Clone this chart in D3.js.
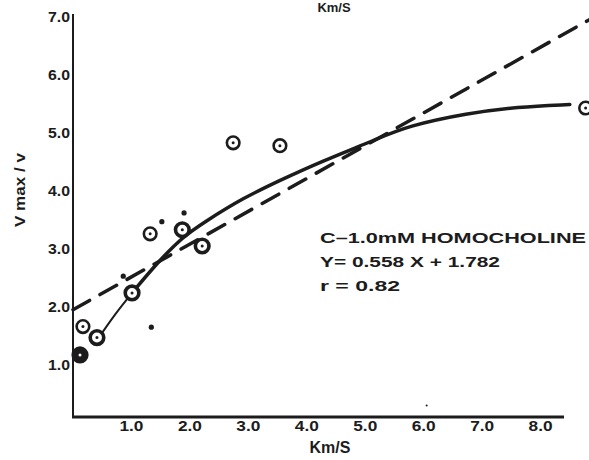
<!DOCTYPE html>
<html>
<head>
<meta charset="utf-8">
<script src="https://cdn.jsdelivr.net/npm/d3@7"></script>
<style>
body { margin: 0; background: #fff; }
text { font-family: "Liberation Sans", Arial, sans-serif; font-weight: bold; fill: #1c1c1c; }
</style>
</head>
<body>
<div id="chart"></div>
<script>
var W = 589, H = 460;
var ink = "#1c1c1c";

// tick labels
var xTicks = [1, 2, 3, 4, 5, 6, 7, 8];
var yTicks = [1, 2, 3, 4, 5, 6, 7];

// circled points (Km/S, Vmax/v); heavy = blotted ink
var ptX = [0.12, 0.17, 0.41, 1.01, 1.32, 1.87, 2.21, 2.74, 3.54, 8.77];
var ptY = [1.17, 1.66, 1.47, 2.24, 3.26, 3.33, 3.05, 4.83, 4.78, 5.43];
var ptHeavy = [2, 0, 1, 1, 0, 1, 1, 0, 0, 0];

// small dots
var dotX = [0.86, 1.34, 1.52, 1.90, 6.05];
var dotY = [2.53, 1.65, 3.47, 3.62, 0.3];

// hand-drawn curve
var curveX = [0.43, 0.7, 1.01, 1.44, 1.88, 2.23, 2.91, 3.6, 4.23, 5.17, 5.72, 6.75, 7.6, 8.5];
var curveY = [1.45, 1.85, 2.24, 2.76, 3.21, 3.45, 3.88, 4.21, 4.50, 4.88, 5.12, 5.34, 5.45, 5.49];

// dashed regression line as drawn
var lineX = [0, 8.9];
var lineY = [1.95, 6.99];

var notes = ["C\u20131.0mM HOMOCHOLINE", "Y= 0.558 X + 1.782", "r = 0.82"];

var x = d3.scaleLinear().domain([0, 8.4]).range([73, 564]);
var y = d3.scaleLinear().domain([0.1, 7.0]).range([417, 17]);

var svg = d3.select("#chart").append("svg")
	.attr("width", W)
	.attr("height", H);

// axes
svg.append("line")
	.attr("x1", x(0)).attr("y1", y(7.05))
	.attr("x2", x(0)).attr("y2", y(0.1))
	.attr("stroke", ink).attr("stroke-width", 2);
svg.append("line")
	.attr("x1", x(0) - 1).attr("y1", y(0.1))
	.attr("x2", x(8.4)).attr("y2", y(0.1))
	.attr("stroke", ink).attr("stroke-width", 3);

svg.selectAll(".xt")
	.data(xTicks)
	.enter()
	.append("text")
	.attr("class", "xt")
	.attr("x", d => x(d))
	.attr("y", 431)
	.attr("text-anchor", "middle")
	.style("font-size", "14px")
	.attr("textLength", 24)
	.attr("lengthAdjust", "spacingAndGlyphs")
	.text(d => d.toFixed(1));

svg.selectAll(".yt")
	.data(yTicks)
	.enter()
	.append("text")
	.attr("class", "yt")
	.attr("x", x(0) - 3)
	.attr("y", d => y(d) + 5)
	.attr("text-anchor", "end")
	.style("font-size", "14px")
	.attr("textLength", 22)
	.attr("lengthAdjust", "spacingAndGlyphs")
	.text(d => d.toFixed(1));

svg.append("text")
	.attr("x", 330)
	.attr("y", 453)
	.attr("text-anchor", "middle")
	.style("font-size", "16px")
	.text("Km/S");

// title fragment at top
svg.append("text")
	.attr("x", 334)
	.attr("y", 12)
	.attr("text-anchor", "middle")
	.style("font-size", "13px")
	.text("Km/S");

svg.append("text")
	.attr("transform", "translate(25,190) rotate(-90)")
	.attr("text-anchor", "middle")
	.style("font-size", "15px")
	.attr("textLength", 74)
	.attr("lengthAdjust", "spacingAndGlyphs")
	.text("V max / v");

// dashed line
svg.append("line")
	.attr("x1", x(lineX[0])).attr("y1", y(lineY[0]))
	.attr("x2", x(lineX[1])).attr("y2", y(lineY[1]))
	.attr("stroke", ink)
	.attr("stroke-width", 3.5)
	.attr("stroke-dasharray", "19 12")
	.attr("stroke-linecap", "round");

// solid curve
var curve = d3.line()
	.x(d => x(d[0]))
	.y(d => y(d[1]))
	.curve(d3.curveBasis);
var cdata = curveX.map((v, i) => [v, curveY[i]]);
svg.append("path")
	.attr("d", curve(cdata.slice(0, 4)))
	.attr("fill", "none").attr("stroke", ink).attr("stroke-width", 2);
svg.append("path")
	.attr("d", curve(cdata.slice(2)))
	.attr("fill", "none").attr("stroke", ink).attr("stroke-width", 3.5)
	.attr("stroke-linecap", "round");

// circled points
var pts = ptX.map((v, i) => [v, ptY[i], ptHeavy[i]]);
svg.selectAll(".pt")
	.data(pts)
	.enter()
	.append("circle")
	.attr("class", "pt")
	.attr("cx", d => x(d[0]))
	.attr("cy", d => y(d[1]))
	.attr("r", d => d[2] ? 6.8 : 6.3)
	.attr("fill", d => d[2] === 2 ? ink : "#fff")
	.attr("stroke", ink)
	.attr("stroke-width", d => d[2] ? 3.6 : 2.6);
svg.selectAll(".pc")
	.data(pts)
	.enter()
	.append("circle")
	.attr("class", "pc")
	.attr("cx", d => x(d[0]))
	.attr("cy", d => y(d[1]))
	.attr("r", 1.5)
	.attr("fill", d => d[2] === 2 ? "#fff" : ink);

svg.selectAll(".dot")
	.data(dotX.map((v, i) => [v, dotY[i]]))
	.enter()
	.append("circle")
	.attr("class", "dot")
	.attr("cx", d => x(d[0]))
	.attr("cy", d => y(d[1]))
	.attr("r", (d, i) => i === 4 ? 1 : 2.6)
	.attr("fill", ink);

// annotation
svg.selectAll(".note")
	.data(notes)
	.enter()
	.append("text")
	.attr("class", "note")
	.attr("x", 320)
	.attr("y", (d, i) => 243 + i * 24)
	.style("font-size", "15px")
	.attr("textLength", (d, i) => [266, 180, 80][i])
	.attr("lengthAdjust", "spacingAndGlyphs")
	.text(d => d);
</script>
</body>
</html>
